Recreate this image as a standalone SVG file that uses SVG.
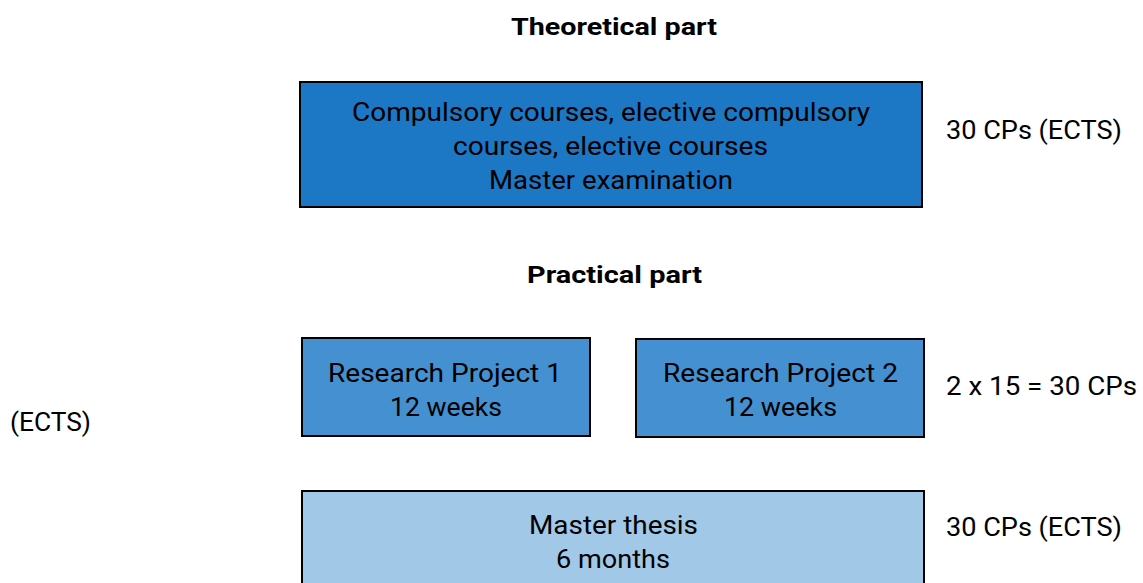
<svg xmlns="http://www.w3.org/2000/svg" width="1143" height="583" viewBox="0 0 1143 583">
<style>
text{font-family:Roboto,"Liberation Sans",sans-serif;font-size:25px;font-weight:400;fill:#000}
.c{text-anchor:middle}
.h{font-weight:bold;font-size:24px}
.box{stroke:#000;stroke-width:2}
</style>
<rect width="1143" height="583" fill="#fff"/>
<text class="c h" x="614" y="35" textLength="206" lengthAdjust="spacingAndGlyphs">Theoretical part</text>
<g id="theory">
<rect class="box" x="300" y="82" width="622" height="125" fill="#1c77c5"/>
<text class="c" x="611" y="121" textLength="518" lengthAdjust="spacingAndGlyphs">Compulsory courses, elective compulsory</text>
<text class="c" x="610.5" y="155" textLength="315" lengthAdjust="spacingAndGlyphs">courses, elective courses</text>
<text class="c" x="611" y="189" textLength="244" lengthAdjust="spacingAndGlyphs">Master examination</text>
</g>
<text x="946" y="139" textLength="176" lengthAdjust="spacingAndGlyphs">30 CPs (ECTS)</text>
<text class="c h" x="614.5" y="283" textLength="175" lengthAdjust="spacingAndGlyphs">Practical part</text>
<g id="rp1">
<rect class="box" x="302" y="338" width="288" height="98" fill="#4490d0"/>
<text class="c" x="445" y="382" textLength="234" lengthAdjust="spacingAndGlyphs">Research Project 1</text>
<text class="c" x="446" y="416" textLength="112" lengthAdjust="spacingAndGlyphs">12 weeks</text>
</g>
<g id="rp2">
<rect class="box" x="636" y="339" width="288" height="98" fill="#4490d0"/>
<text class="c" x="780.5" y="382" textLength="235" lengthAdjust="spacingAndGlyphs">Research Project 2</text>
<text class="c" x="780.5" y="416" textLength="113" lengthAdjust="spacingAndGlyphs">12 weeks</text>
</g>
<text x="946" y="395" textLength="191" lengthAdjust="spacingAndGlyphs">2 x 15 = 30 CPs</text>
<text x="10" y="431" textLength="81" lengthAdjust="spacingAndGlyphs">(ECTS)</text>
<g id="thesis">
<rect class="box" x="302" y="491" width="622" height="100" fill="#a2c8e8"/>
<text class="c" x="613.5" y="534" textLength="169" lengthAdjust="spacingAndGlyphs">Master thesis</text>
<text class="c" x="613" y="568" textLength="114" lengthAdjust="spacingAndGlyphs">6 months</text>
</g>
<text x="946" y="536" textLength="176" lengthAdjust="spacingAndGlyphs">30 CPs (ECTS)</text>
<g id="connectors"/>
</svg>
